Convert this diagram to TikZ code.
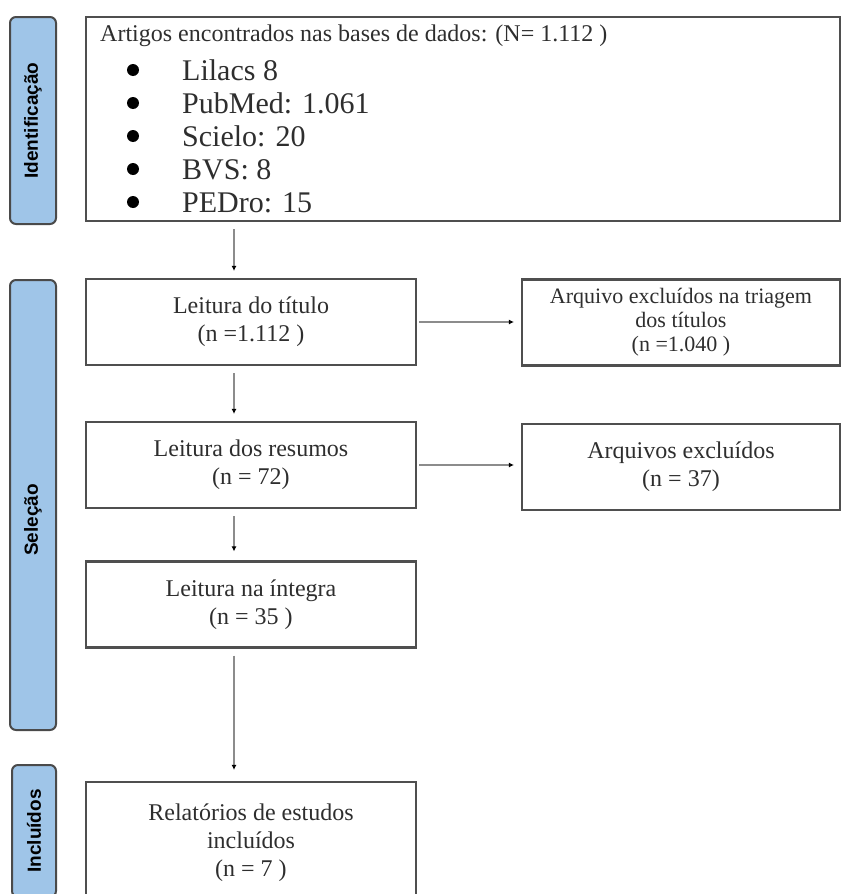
\documentclass[tikz,border=0pt]{standalone}
\usepackage{fontspec}
\setmainfont{Liberation Serif}
\newfontfamily\barfont{Liberation Sans}
\usepackage{tikz}
\usetikzlibrary{arrows.meta}
\definecolor{barblue}{HTML}{9FC5E8}
\definecolor{barline}{HTML}{4A4A4A}
\definecolor{boxline}{HTML}{4F4F4F}
\definecolor{textgray}{HTML}{2E2E2E}
\definecolor{arrowgray}{HTML}{8C8C8C}

\begin{document}
\begin{tikzpicture}[x=1pt, y=-1pt,
            stagebar/.style={draw=barline, fill=barblue, line width=2pt, rounded corners=6pt, rotate=90, minimum height=46pt, inner sep=0pt, text=black, font=\barfont\bfseries\fontsize{19}{20}\selectfont},
            flowbox/.style={draw=boxline, line width=2.2pt, align=center, text=textgray, inner sep=0pt, minimum width=330pt, minimum height=86pt, font=\fontsize{24}{28}\selectfont},
            sidebox/.style={flowbox, minimum width=318pt},
            flowarrow/.style={draw=arrowgray, line width=2pt, -{Latex[length=5pt, width=5pt, color=black]}, shorten <=7pt, shorten >=7pt},
            headtext/.style={anchor=base west, text=textgray, inner sep=0pt, font=\fontsize{24}{28}\selectfont},
            itemtext/.style={anchor=base west, text=textgray, inner sep=0pt, font=\fontsize{30}{33}\selectfont}
        ]
            \useasboundingbox (0,0) rectangle (841,894);
            \clip (0,0) rectangle (841,894);

            % stages (left)
            \node[stagebar, minimum width=207pt] (ident) at (33,120.5) {Identificação};
            \node[stagebar, minimum width=450pt] (selec) at (33,505) {Seleção\kern30pt};
            \node[stagebar, minimum width=132pt, minimum height=44pt] (incl) at (34,831) {Incluídos};

            % databases
            \node[flowbox, minimum width=754pt, minimum height=204pt] (sources) at (463,119) {};
            \node[headtext] (srchead) at (100,41) {Artigos encontrados nas bases de dados: (N= 1.112 )};
            \foreach \name [count=\i] in {Lilacs 8, PubMed: 1.061, Scielo: 20, BVS: 8, PEDro: 15}{
                \pgfmathsetmacro{\y}{80+33*(\i-1)}
                \fill[black] (133,\y-10) circle (6);
                \node[itemtext] (src\i) at (182,\y) {\name};
            }

            % screening
            \node[flowbox] (titulo) at (251,322) {Leitura do título\\(n =1.112 )};
            \node[flowbox] (resumos) at (251,465) {Leitura dos resumos\\(n = 72)};
            \node[flowbox] (integra) at (251,604.5) {Leitura na íntegra\\(n = 35 )};
            \node[flowbox, minimum height=122pt] (final) at (251,843) {Relatórios de estudos\\incluídos\\(n = 7 )};

            % exclusions
            \node[sidebox, font=\fontsize{22}{24}\selectfont] (triagem) at (681,322.5) {Arquivo excluídos na triagem\\dos títulos\\(n =1.040 )};
            \node[sidebox] (excluidos) at (681,467) {Arquivos excluídos\\(n = 37)};

            % arrows
            \coordinate (spine) at (234,0);
            \draw[flowarrow] (sources.south -| spine) -- (titulo.north -| spine);
            \draw[flowarrow] (titulo.south -| spine) -- (resumos.north -| spine);
            \draw[flowarrow, shorten >=9pt] (resumos.south -| spine) -- (integra.north -| spine);
            \draw[flowarrow, shorten >=11pt] (integra.south -| spine) -- (final.north -| spine);
            \draw[flowarrow, shorten <=2pt] (titulo.east) -- (titulo.east -| triagem.west);
            \draw[flowarrow, shorten <=2pt] (resumos.east) -- (resumos.east -| excluidos.west);

        \end{tikzpicture}
\end{document}
